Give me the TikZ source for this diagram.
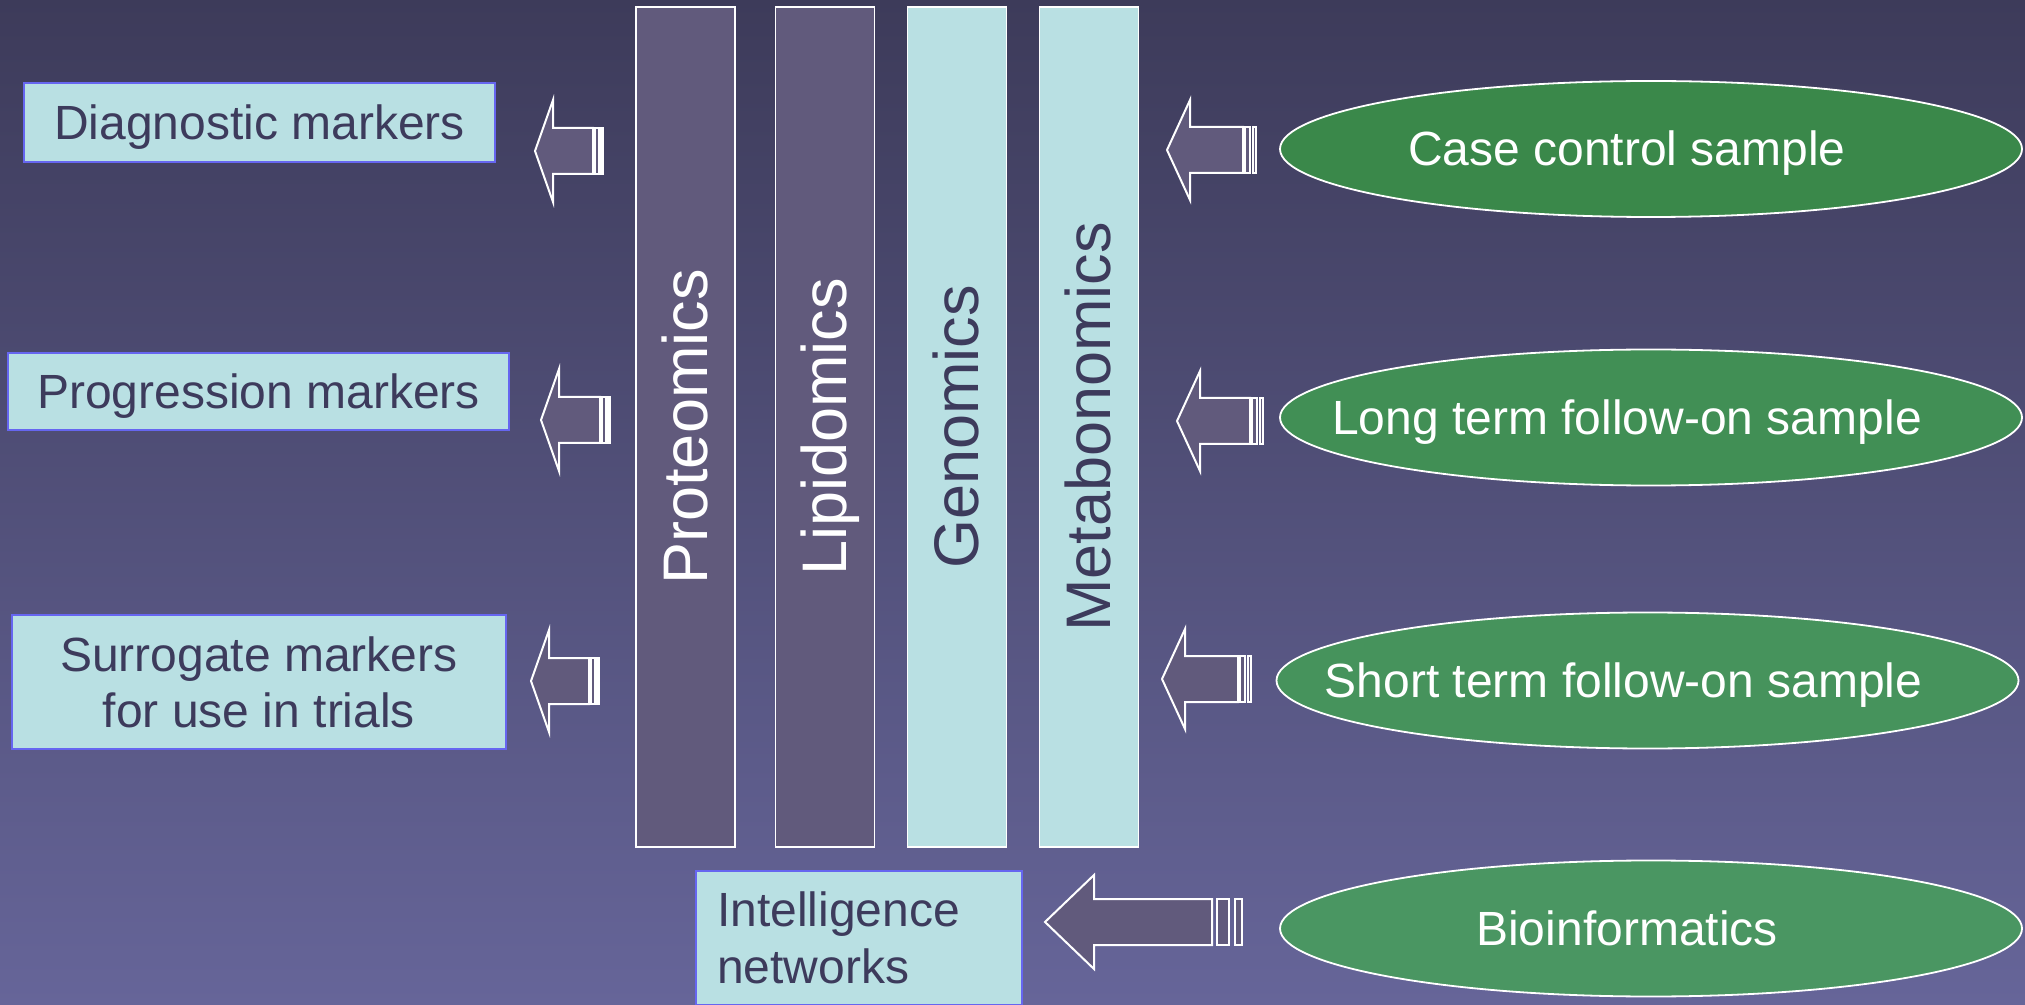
\documentclass[tikz,border=0pt]{standalone}
\usepackage{fontspec}
\setmainfont{Liberation Sans}
\usetikzlibrary{shapes.geometric}

\definecolor{bgtop}{RGB}{61,59,90}
\definecolor{bgbottom}{RGB}{102,101,153}
\definecolor{boxfill}{RGB}{185,224,227}
\definecolor{boxedge}{RGB}{102,102,240}
\definecolor{inktext}{RGB}{61,59,92}
\definecolor{omicspurple}{RGB}{97,90,124}
\definecolor{greenA}{RGB}{58,136,74}
\definecolor{greenB}{RGB}{65,143,85}
\definecolor{greenC}{RGB}{70,147,92}
\definecolor{greenD}{RGB}{74,150,98}

\newcommand{\fatarrow}[6]{%
  \draw[arrowbody] (#1,#2) -- ++(#4,-#5) -- ++(0,#5-23) -- (#3-#6,#2-23) -- (#3-#6,#2+23) -- (#1+#4,#2+23) -- ++(0,#5-23) -- cycle;
  \draw[arrowbody] (#3-0.85*#6,#2-23) rectangle (#3-0.45*#6,#2+23);
  \draw[arrowbody] (#3-0.25*#6,#2-23) rectangle (#3,#2+23);
}

\begin{document}
\begin{tikzpicture}[x=0.5pt, y=-0.5pt,
    markerbox/.style={rectangle, draw=boxedge, line width=0.9pt, fill=boxfill, text=inktext,
      inner sep=0pt, font=\fontsize{24pt}{28pt}\selectfont},
    oneline/.style={text height=21.7pt, text depth=5.1pt},
    omicsbar/.style={rectangle, draw=white, line width=0.9pt, rotate=90, inner sep=0pt,
      minimum width=420pt, minimum height=49.5pt, text height=28.5pt, text depth=6.7pt,
      font=\fontsize{31.5pt}{36pt}\selectfont},
    samplenode/.style={ellipse, draw=white, line width=0.9pt, inner sep=0pt,
      minimum width=371pt, minimum height=68pt},
    samplelabel/.style={text=white, xshift=-12pt, text height=21.7pt, text depth=5.1pt,
      font=\fontsize{24pt}{28pt}\selectfont},
    arrowbody/.style={draw=white, line width=1pt, fill=omicspurple, line join=miter}]

  \shade[top color=bgtop, bottom color=bgbottom] (0,0) rectangle (2025,1005);
  \useasboundingbox (0,0) rectangle (2025,1005);

  \node[markerbox, oneline, minimum width=235.5pt, minimum height=39.5pt] at (259.5,122.5) (diag) {Diagnostic markers};
  \node[markerbox, oneline, minimum width=250.5pt, minimum height=38.5pt] at (258.5,391.5) (prog) {Progression markers};
  \node[markerbox, align=center, minimum width=247pt, minimum height=67pt] at (259,682) (surr) {Surrogate markers\\for use in trials};
  \node[markerbox, align=left, text width=142pt, inner xsep=10.5pt, minimum height=67pt,
        font=\fontsize{24pt}{28.5pt}\selectfont] at (859,938) (intel) {Intelligence\\networks};

  \node[omicsbar, fill=omicspurple, text=white] at (685.5,427) (prot) {Proteomics};
  \node[omicsbar, fill=omicspurple, text=white] at (825,427) (lipid) {Lipidomics};
  \node[omicsbar, fill=boxfill, text=inktext] at (957,427) (genom) {Genomics};
  \node[omicsbar, fill=boxfill, text=inktext] at (1089,427) (metab) {Metabonomics};

  \node[samplenode, fill=greenA, label={[samplelabel]center:Case control sample}] at (1651,149) (casectl) {};
  \node[samplenode, fill=greenB, label={[samplelabel]center:Long term follow-on sample}] at (1651,417.5) (longterm) {};
  \node[samplenode, fill=greenC, label={[samplelabel]center:Short term follow-on sample}] at (1647.5,680.5) (shortterm) {};
  \node[samplenode, fill=greenD, label={[samplelabel]center:Bioinformatics}] at (1651,928.5) (bioinf) {};

  \fatarrow{535}{151}{603}{18}{51}{10}
  \fatarrow{541}{420}{610}{18}{51}{10}
  \fatarrow{531}{681}{599}{18}{51}{10}
  \fatarrow{1167}{150}{1256}{23}{50}{13}
  \fatarrow{1177}{421}{1263}{23}{50}{13}
  \fatarrow{1162}{679}{1251}{23}{50}{13}
  \fatarrow{1045}{922}{1242}{49}{47}{30}
\end{tikzpicture}
\end{document}
